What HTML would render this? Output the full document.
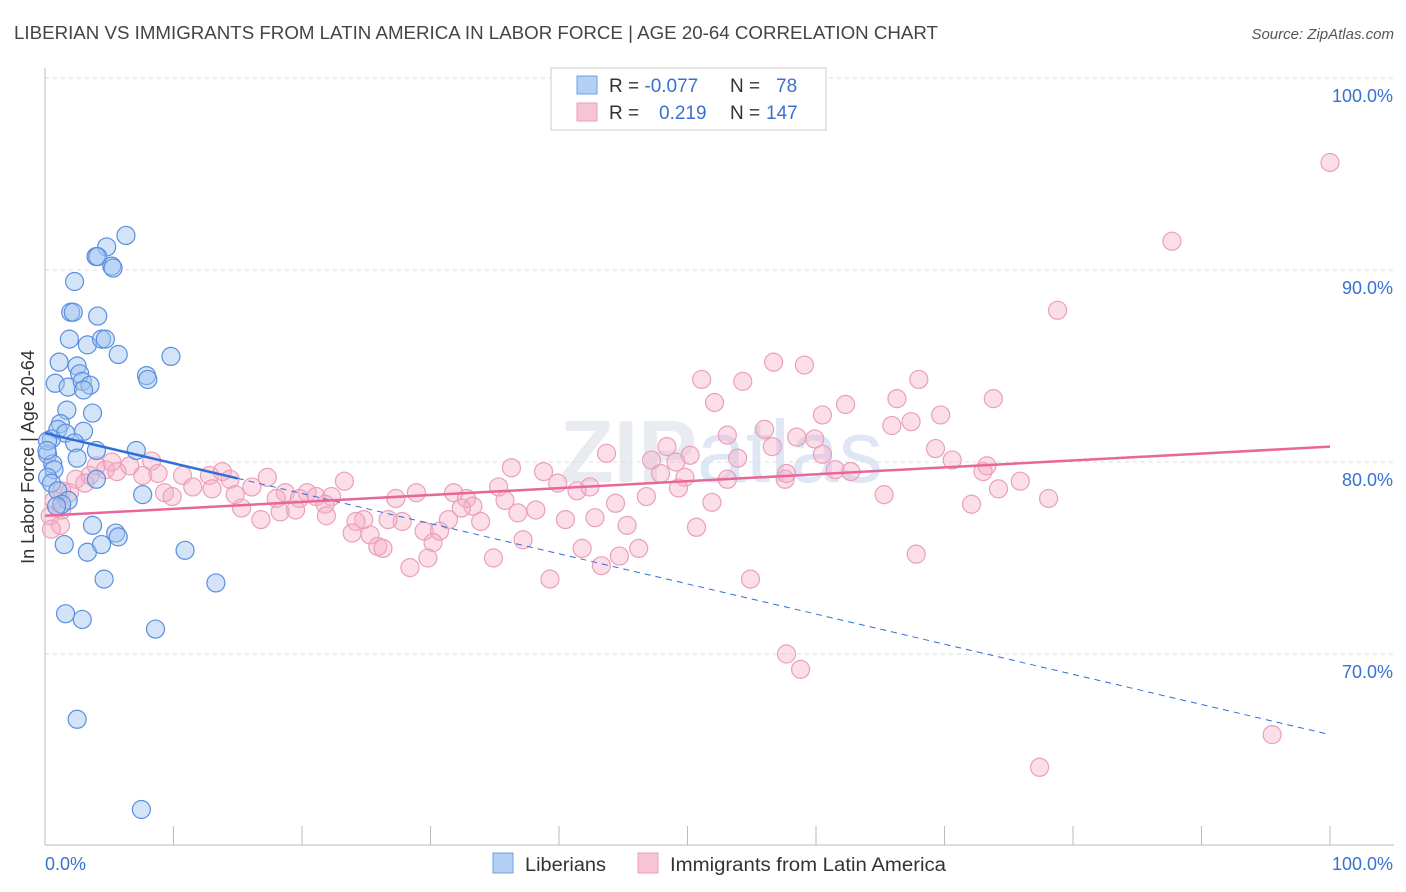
<!DOCTYPE html>
<html><head><meta charset="utf-8"><style>
body{margin:0;background:#fff;font-family:"Liberation Sans",sans-serif;}
svg{display:block}
</style></head><body>
<svg id="chart" width="1406" height="892">
<text x="14" y="39" font-size="18" fill="#444" textLength="924" lengthAdjust="spacingAndGlyphs">LIBERIAN VS IMMIGRANTS FROM LATIN AMERICA IN LABOR FORCE | AGE 20-64 CORRELATION CHART</text>
<text x="1394" y="39" font-size="15" fill="#555" text-anchor="end" font-style="italic">Source: ZipAtlas.com</text>
<text x="560" y="482" font-size="88" fill="#e8ebf0" font-weight="bold">ZIP<tspan fill="#dde7f5" font-weight="normal">atlas</tspan></text>
<g id="grid"></g>
<g id="marks"></g>
<text transform="translate(34,457) rotate(-90)" font-size="18" fill="#333" text-anchor="middle">In Labor Force | Age 20-64</text>
<g>
<rect x="551" y="68" width="275" height="62" fill="#fff" stroke="#ccc"/>
<rect x="577" y="76" width="20" height="18" fill="#b5d0f5" stroke="#6f9fe0"/>
<rect x="577" y="103" width="20" height="18" fill="#f8c3d3" stroke="#e8a0b8"/>
<text x="609" y="92" font-size="19" fill="#333">R = <tspan fill="#3a70d0">-0.077</tspan><tspan x="730">N = </tspan><tspan fill="#3a70d0" x="776">78</tspan></text>
<text x="609" y="119" font-size="19" fill="#333">R = <tspan fill="#3a70d0" x="659">0.219</tspan><tspan x="730">N = </tspan><tspan fill="#3a70d0" x="766">147</tspan></text>
</g>
<g>
<rect x="493" y="853" width="20" height="20" fill="#b5d0f5" stroke="#6f9fe0"/>
<text x="525" y="871" font-size="19" fill="#333" textLength="81" lengthAdjust="spacingAndGlyphs">Liberians</text>
<rect x="638" y="853" width="20" height="20" fill="#f8c3d3" stroke="#e8a0b8"/>
<text x="670" y="871" font-size="19" fill="#333" textLength="276" lengthAdjust="spacingAndGlyphs">Immigrants from Latin America</text>
</g>
</svg>
<script>
const blueX=[6.3,4.8,3.97,4.1,5.2,5.3,2.3,2.0,2.2,4.1,1.9,3.3,4.4,4.7,5.7,9.8,1.1,2.5,7.9,8.0,2.7,0.8,1.8,2.9,3.5,3.0,1.7,3.7,1.2,1.0,3.0,1.6,0.5,2.3,7.1,4.0,0.2,2.5,0.6,0.7,0.2,0.5,4.0,1.0,7.6,1.8,1.3,0.9,3.7,1.5,3.3,4.4,5.5,5.7,10.9,4.6,13.3,1.6,2.9,8.6,2.5,7.5,0.2,0.15];
const blueY=[91.8,91.2,90.7,90.7,90.2,90.1,89.4,87.8,87.8,87.6,86.4,86.1,86.4,86.4,85.6,85.5,85.2,85.0,84.5,84.3,84.6,84.1,83.9,84.2,84.0,83.75,82.7,82.55,82.0,81.7,81.6,81.5,81.2,81.0,80.6,80.6,80.4,80.2,79.9,79.6,79.2,78.9,79.1,78.5,78.3,78.0,77.8,77.7,76.7,75.7,75.3,75.7,76.3,76.1,75.4,73.9,73.7,72.1,71.8,71.3,66.6,61.9,81.1,80.6];
const pinkX=[100,87.7,78.8,56.7,59.1,51.1,54.3,68.0,73.8,66.3,52.1,62.3,60.5,69.7,67.4,65.9,56.0,53.1,58.5,59.9,48.4,56.6,69.3,43.7,50.2,60.5,53.9,47.2,49.1,70.6,61.5,62.7,73.3,73.0,36.3,38.8,47.9,49.8,53.1,57.6,57.7,75.9,74.2,49.3,39.9,35.3,41.4,42.4,65.3,78.1,46.8,51.9,72.1,44.4,35.8,28.9,27.3,31.8,32.8,33.3,32.4,38.2,36.8,42.8,40.5,45.3,50.7,33.9,31.4,27.8,29.5,30.7,26.7,24.8,24.2,25.3,23.9,25.9,26.3,30.2,29.8,34.9,37.2,41.8,43.3,44.7,46.2,28.4,39.3,54.9,67.8,57.7,58.8,95.5,77.4,8.3,6.6,4.7,5.6,7.6,8.8,10.7,12.8,13.8,14.4,3.5,2.4,3.1,17.3,23.3,16.1,11.5,13.0,9.3,14.8,9.9,18.7,18.0,20.4,19.8,21.1,22.3,21.8,15.3,18.3,19.5,21.9,16.8,1.3,1.9,0.7,0.4,1.2,0.5,1.3,5.2,4.0];
const pinkY=[95.6,91.5,87.9,85.2,85.05,84.3,84.2,84.3,83.3,83.3,83.1,83.0,82.45,82.45,82.1,81.9,81.7,81.4,81.3,81.2,80.8,80.8,80.7,80.45,80.35,80.4,80.2,80.1,80.0,80.1,79.6,79.5,79.8,79.5,79.7,79.5,79.4,79.2,79.1,79.1,79.4,79.0,78.6,78.65,78.9,78.7,78.5,78.7,78.3,78.1,78.2,77.9,77.8,77.85,78.0,78.4,78.1,78.4,78.1,77.7,77.6,77.5,77.35,77.1,77.0,76.7,76.6,76.9,77.0,76.9,76.4,76.4,77.0,77.0,76.9,76.2,76.3,75.6,75.5,75.8,75.0,75.0,75.95,75.5,74.6,75.1,75.5,74.5,73.9,73.9,75.2,70.0,69.2,65.8,64.1,80.05,79.8,79.6,79.5,79.3,79.4,79.3,79.3,79.5,79.1,79.3,79.1,78.9,79.2,79.0,78.7,78.7,78.6,78.4,78.3,78.2,78.4,78.1,78.4,78.1,78.2,78.2,77.8,77.6,77.4,77.5,77.2,77.0,78.5,78.4,78.0,77.2,76.7,76.5,77.5,80.0,79.8];
const yTicks=[100,90,80,70];
const yTickLabels=["100.0%","90.0%","80.0%","70.0%"];
const blueTrend=[81.5,65.8];
const pinkTrend=[77.2,80.8];
const NS="http://www.w3.org/2000/svg";
const sx=v=>45+v*12.85;
const sy=v=>78+(100-v)*19.2;
function mk(tag,attrs,parent){const e=document.createElementNS(NS,tag);for(const k in attrs)e.setAttribute(k,attrs[k]);parent.appendChild(e);return e;}
const grid=document.getElementById('grid'),marks=document.getElementById('marks');
yTicks.forEach((t,i)=>{
  const l=mk('line',{x1:45,x2:1394,y1:sy(t),y2:sy(t),stroke:'#ddd','stroke-dasharray':'4,4'},grid);
  
  
  const tx=mk('text',{x:1393,y:sy(t)+24,'font-size':18,fill:'#3a70d0','text-anchor':'end'},grid);
  tx.textContent=yTickLabels[i];
  
  
});
const ax=mk('line',{x1:45,x2:45,y1:68,y2:845,stroke:'#bbb'},grid);


const bx=mk('line',{x1:45,x2:1394,y1:845,y2:845,stroke:'#bbb'},grid);


for(let i=0;i<=10;i++){const t=mk('line',{x1:sx(i*10),x2:sx(i*10),y1:826,y2:845,stroke:'#bbb'},grid);

}
[["0.0%",45,'start'],["100.0%",1393,'end']].forEach(([s,x,a])=>{const t=mk('text',{x:x,y:870,'font-size':18,fill:'#3a70d0','text-anchor':a},grid);t.textContent=s;

});
pinkX.forEach((x,i)=>{const c=mk('circle',{cx:sx(x),cy:sy(pinkY[i]),r:9,fill:'rgba(246,172,198,0.4)',stroke:'#eaa0ba','stroke-width':1.2},marks);

});
blueX.forEach((x,i)=>{const c=mk('circle',{cx:sx(x),cy:sy(blueY[i]),r:9,fill:'rgba(160,196,240,0.45)',stroke:'#5b8ee0','stroke-width':1.2},marks);

});
const bAt=x=>blueTrend[0]+(blueTrend[1]-blueTrend[0])*x/100;
const b1=mk('line',{x1:sx(0),y1:sy(bAt(0)),x2:sx(15),y2:sy(bAt(15)),stroke:'#2f6fd8','stroke-width':2.5},marks);


const b2=mk('line',{x1:sx(15),y1:sy(bAt(15)),x2:sx(100),y2:sy(bAt(100)),stroke:'#2f6fd8','stroke-width':1,'stroke-dasharray':'6,5'},marks);


const p1=mk('line',{x1:sx(0),y1:sy(pinkTrend[0]),x2:sx(100),y2:sy(pinkTrend[1]),stroke:'#e8679a','stroke-width':2.5},marks);


</script>
</body></html>
